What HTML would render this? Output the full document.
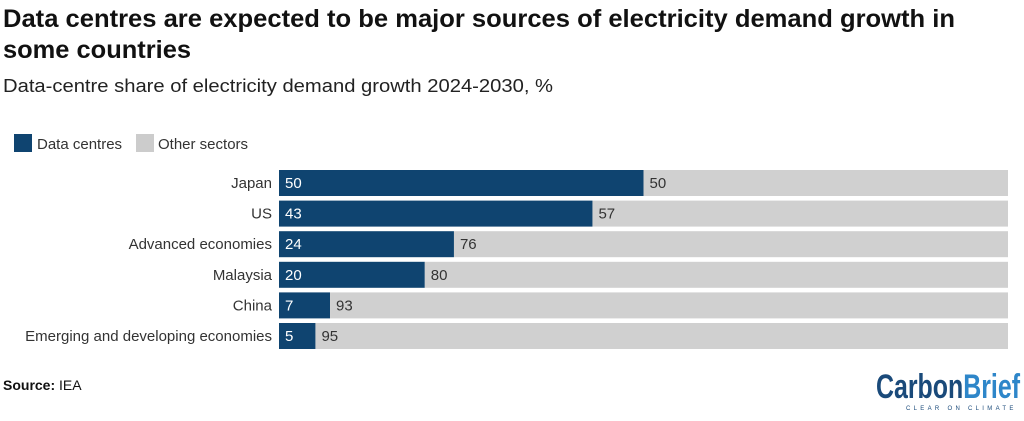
<!DOCTYPE html>
<html><head><meta charset="utf-8"><style>
body{margin:0;background:#fff;width:1024px;height:416px;overflow:hidden;font-family:"Liberation Sans",sans-serif}
</style></head><body>
<svg width="1024" height="416" xmlns="http://www.w3.org/2000/svg">
<text x="3" y="27" font-size="25" font-weight="bold" fill="#111" textLength="952" lengthAdjust="spacingAndGlyphs">Data centres are expected to be major sources of electricity demand growth in</text>
<text x="3" y="58" font-size="25" font-weight="bold" fill="#111" textLength="188" lengthAdjust="spacingAndGlyphs">some countries</text>
<text x="3" y="92" font-size="18" fill="#222" textLength="550" lengthAdjust="spacingAndGlyphs">Data-centre share of electricity demand growth 2024-2030, %</text>
<rect x="14" y="134" width="18" height="18" fill="#0f4470"/>
<text x="37" y="149" font-size="15" fill="#333">Data centres</text>
<rect x="136" y="134" width="18" height="18" fill="#cccccc"/>
<text x="158" y="149" font-size="15" fill="#333">Other sectors</text>
<g id="bars"></g>
<text x="3" y="390" font-size="14" fill="#111"><tspan font-weight="bold">Source:</tspan> IEA</text>
<text x="876" y="398" font-size="34" font-weight="bold" fill="#1a4a7a" textLength="144" lengthAdjust="spacingAndGlyphs">Carbon<tspan fill="#2e86c9">Brief</tspan></text>
<text x="906" y="410" font-size="6" fill="#1a4a7a" letter-spacing="3.3">CLEAR ON CLIMATE</text>
</svg>
<script>
const categories=["Japan","US","Advanced economies","Malaysia","China","Emerging and developing economies"];
const dataCentres=[50,43,24,20,7,5];
const otherSectors=[50,57,76,80,93,95];
const x0=279,x1=1008,top0=170,pitch=30.6,bh=26;
const xs=v=>x0+(x1-x0)*v/100;
const g=document.getElementById('bars');
const NS="http://www.w3.org/2000/svg";
function mk(tag,attrs,txt){const e=document.createElementNS(NS,tag);for(const k in attrs)e.setAttribute(k,attrs[k]);if(txt!=null)e.textContent=txt;g.appendChild(e);return e;}
categories.forEach((c,i)=>{
  const y=top0+i*pitch, a=dataCentres[i], b=otherSectors[i];
  let e=mk('rect',{x:xs(0),y:y,width:xs(a)-xs(0),height:bh,fill:'#0f4470'});
  
  
  e=mk('rect',{x:xs(a),y:y,width:xs(a+b)-xs(a),height:bh,fill:'#d0d0d0'});
  
  
  e=mk('text',{x:272,y:y+18,'font-size':15,fill:'#333','text-anchor':'end'},c);
  
  
  e=mk('text',{x:xs(0)+6,y:y+18,'font-size':15,fill:'#fff'},a);
  
  
  e=mk('text',{x:xs(a)+6,y:y+18,'font-size':15,fill:'#333'},b);
  
  
});
</script>
</body></html>
